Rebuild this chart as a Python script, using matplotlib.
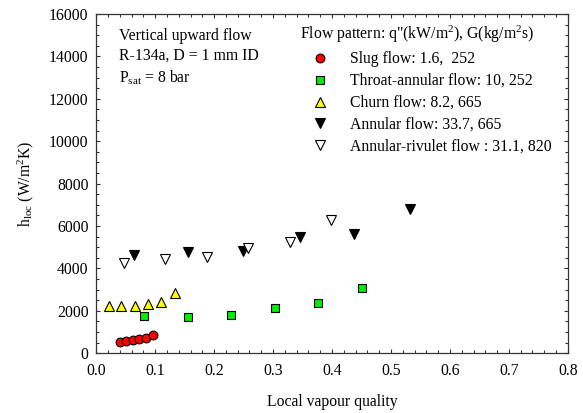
"""
Local heat transfer coefficient vs vapour quality, R-134a in 1 mm tube,
grouped by observed flow pattern.
"""

import matplotlib
matplotlib.use("Agg")
import matplotlib.pyplot as plt
from matplotlib.ticker import MultipleLocator, FormatStrFormatter

plt.rcParams["font.family"] = ["Liberation Serif", "DejaVu Serif"]
plt.rcParams["mathtext.fontset"] = "custom"
plt.rcParams["mathtext.rm"] = "Liberation Serif"
plt.rcParams["mathtext.it"] = "Liberation Serif:italic"

FS = 11.3

# data
slug_x = [0.040, 0.051, 0.062, 0.073, 0.085, 0.096]
slug_h = [520, 550, 610, 680, 720, 850]

throat_x = [0.081, 0.155, 0.229, 0.303, 0.377, 0.451]
throat_h = [1750, 1710, 1790, 2110, 2350, 3080]

churn_x = [0.021, 0.042, 0.066, 0.088, 0.110, 0.133]
churn_h = [2220, 2230, 2230, 2310, 2410, 2850]

annular_x = [0.064, 0.156, 0.249, 0.345, 0.438, 0.533]
annular_h = [4620, 4780, 4810, 5460, 5600, 6810]

rivulet_x = [0.048, 0.117, 0.188, 0.258, 0.329, 0.398]
rivulet_h = [4230, 4420, 4520, 4940, 5250, 6280]

labels = [
    "Slug flow: 1.6,  252",
    "Throat-annular flow: 10, 252",
    "Churn flow: 8.2, 665",
    "Annular flow: 33.7, 665",
    "Annular-rivulet flow : 31.1, 820",
]

fig = plt.figure(figsize=(5.83, 4.13), dpi=100)
ax = fig.add_axes([0.165, 0.145, 0.809, 0.821])

mk = dict(linestyle="none", markeredgecolor="black", markeredgewidth=0.8)
ax.plot(slug_x, slug_h, marker="o", markersize=6.3, markerfacecolor="#ff0000", label=labels[0], **mk)
ax.plot(throat_x, throat_h, marker="s", markersize=5.7, markerfacecolor="#00ee00", label=labels[1], **mk)
ax.plot(churn_x, churn_h, marker="^", markersize=6.5, markerfacecolor="#ffff00", label=labels[2], **mk)
ax.plot(annular_x, annular_h, marker="v", markersize=6.5, markerfacecolor="black", label=labels[3], **mk)
ax.plot(rivulet_x, rivulet_h, marker="v", markersize=6.5, markerfacecolor="white", label=labels[4], **mk)

ax.set_xlim(0, 0.8)
ax.set_ylim(0, 16000)
ax.xaxis.set_major_locator(MultipleLocator(0.1))
ax.xaxis.set_minor_locator(MultipleLocator(0.02))
ax.xaxis.set_major_formatter(FormatStrFormatter("%.1f"))
ax.yaxis.set_major_locator(MultipleLocator(2000))
ax.yaxis.set_minor_locator(MultipleLocator(500))
ax.tick_params(which="both", direction="in", top=True, right=True,
               labelsize=FS, color="#333333", width=0.8)
ax.tick_params(which="major", length=3.2)
ax.tick_params(which="minor", length=2)
ax.tick_params(axis="x", which="major", pad=7)
ax.tick_params(axis="y", which="major", pad=5.5)
for sp in ax.spines.values():
    sp.set_linewidth(0.9)
    sp.set_color("#333333")

ax.set_xlabel("Local vapour quality", fontsize=FS, labelpad=11)
ax.set_ylabel(r"h$_{\mathrm{loc}}$ (W/m$^2$K)", fontsize=FS, labelpad=9)

ax.text(0.048, 0.96, "Vertical upward flow\nR-134a, D = 1 mm ID\nP$_{\\mathrm{sat}}$ = 8 bar",
        transform=ax.transAxes, fontsize=FS, va="top", ha="left", linespacing=1.35)

leg = ax.legend(loc="upper left", bbox_to_anchor=(0.422, 0.985), frameon=False,
                fontsize=FS, numpoints=1, handlelength=2.6, handletextpad=0.6,
                labelspacing=0.38, borderaxespad=0, borderpad=0.3,
                title='Flow pattern: q"(kW/m$^2$), G(kg/m$^2$s)', title_fontsize=FS,
                alignment="left")

fig.savefig("out.png", dpi=100)
